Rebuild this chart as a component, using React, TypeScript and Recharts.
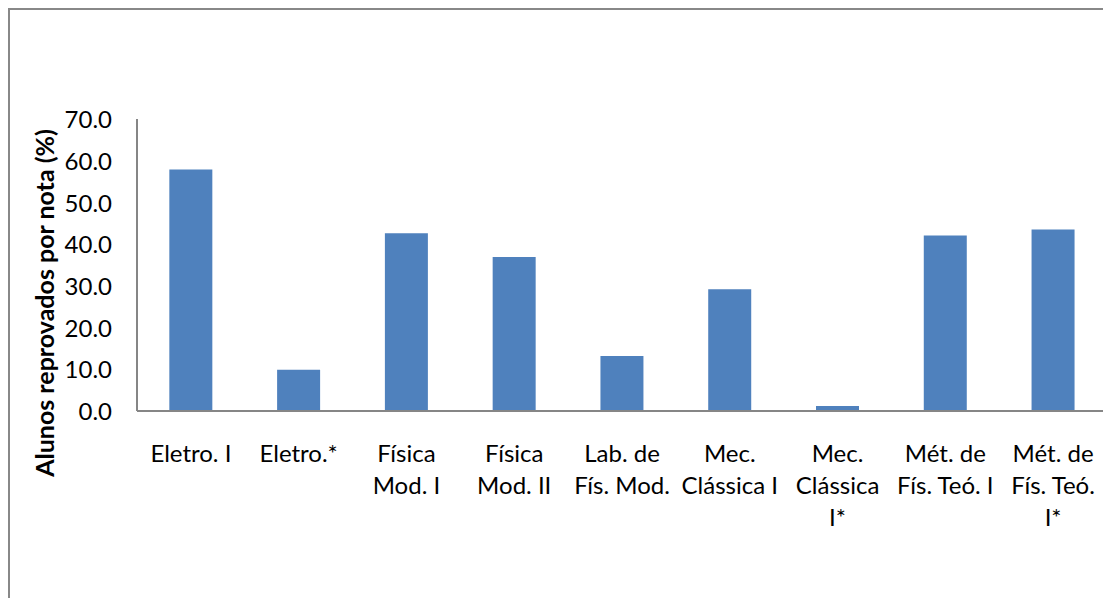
import React from "react";
import { BarChart, Bar, XAxis, YAxis } from "recharts";

const categories = [
  "Eletro. I",
  "Eletro.*",
  "Física Mod. I",
  "Física Mod. II",
  "Lab. de Fís. Mod.",
  "Mec. Clássica I",
  "Mec. Clássica I*",
  "Mét. de Fís. Teó. I",
  "Mét. de Fís. Teó. I*",
];

const tickLines: string[][] = [
  ["Eletro. I"],
  ["Eletro.*"],
  ["Física", "Mod. I"],
  ["Física", "Mod. II"],
  ["Lab. de", "Fís. Mod."],
  ["Mec.", "Clássica I"],
  ["Mec.", "Clássica", "I*"],
  ["Mét. de", "Fís. Teó. I"],
  ["Mét. de", "Fís. Teó.", "I*"],
];

const values = [57.9, 9.9, 42.6, 36.9, 13.2, 29.2, 1.2, 42.1, 43.5];

const yTicks = [0, 10, 20, 30, 40, 50, 60, 70];

const data = categories.map((c, i) => ({ name: c, value: values[i], idx: i }));

const FONT = "Lato, 'Open Sans', sans-serif";
const FS = 24;

const XTick = (props: any) => {
  const { x, y, index } = props;
  const lines = tickLines[index] || [String(props.payload?.value)];
  return (
    <g>
      {lines.map((l, i) => (
        <text
          key={i}
          x={x}
          y={y + 43 + i * 32}
          textAnchor="middle"
          fontFamily={FONT}
          fontSize={FS}
          fill="#000"
        >
          {l}
        </text>
      ))}
    </g>
  );
};

const YTick = (props: any) => {
  const { x, y, payload } = props;
  return (
    <text
      x={x}
      y={y}
      dy="0.38em"
      textAnchor="end"
      fontFamily={FONT}
      fontSize={FS}
      fill="#000"
    >
      {Number(payload.value).toFixed(1)}
    </text>
  );
};

const YLabel = (props: any) => {
  return (
    <text
      x={34}
      y={293}
      transform="rotate(-90 34 293)"
      textAnchor="middle"
      dominantBaseline="central"
      fontFamily={FONT}
      fontSize={25}
      fontWeight="bold"
      fill="#000"
    >
      Alunos reprovados por nota (%)
    </text>
  );
};

export default function App() {
  return (
    <div
      style={{
        width: 1110,
        height: 600,
        borderLeft: "2px solid #888",
        borderTop: "2px solid #888",
        background: "#fff",
      }}
    >
      <BarChart
        width={1100}
        height={580}
        data={data}
        margin={{ top: 109, right: 3, left: 0, bottom: 0 }}
        barCategoryGap="30%"
      >
        <XAxis
          dataKey="name"
          height={179}
          interval={0}
          tickLine={false}
          tick={<XTick />}
          axisLine={{ stroke: "#868686", strokeWidth: 2 }}
        />
        <YAxis
          width={127}
          domain={[0, 70]}
          ticks={yTicks}
          interval={0}
          tickLine={false}
          tickSize={0}
          tickMargin={25}
          tick={<YTick />}
          axisLine={{ stroke: "#868686", strokeWidth: 2 }}
          label={<YLabel />}
        />
        <Bar dataKey="value" fill="#4F81BD" isAnimationActive={false} />
      </BarChart>
    </div>
  );
}
